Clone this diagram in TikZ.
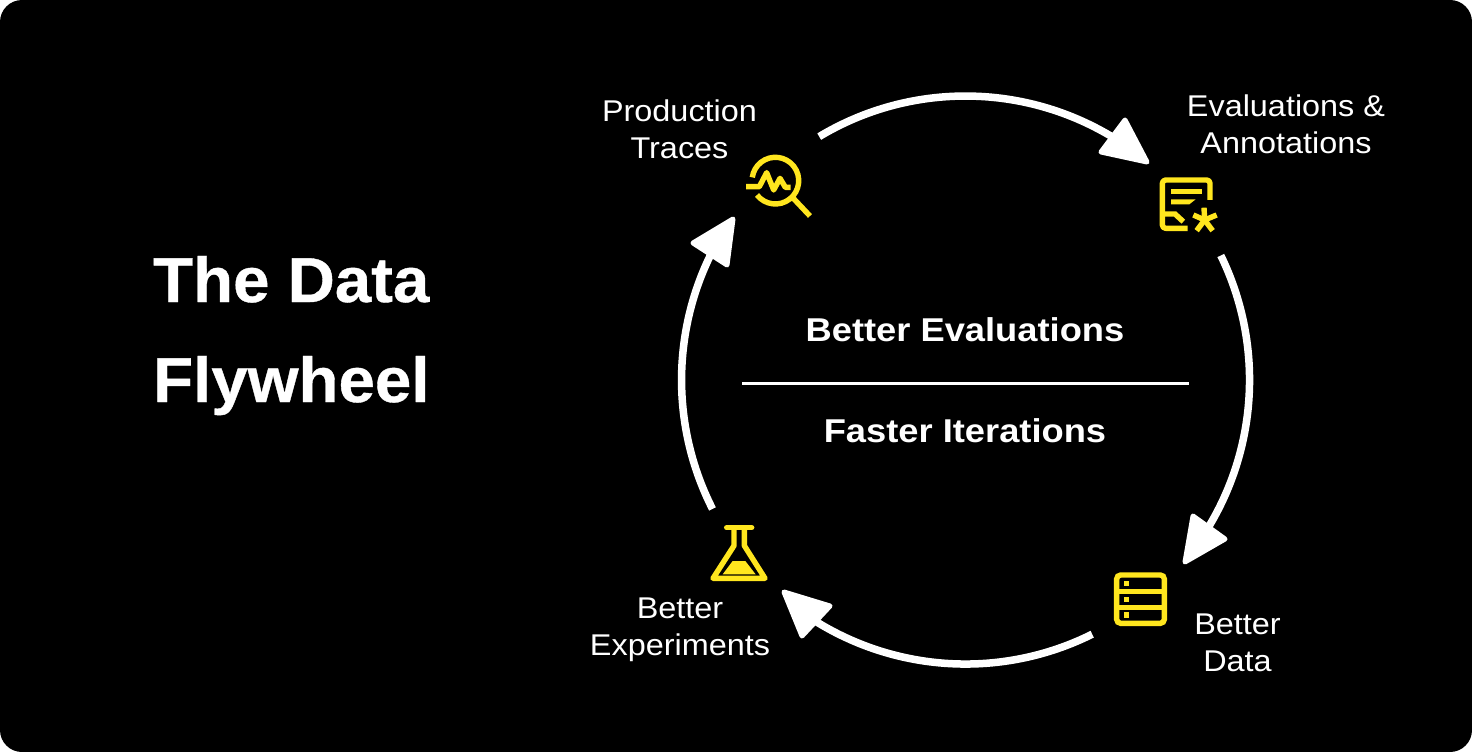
\documentclass[tikz,border=0pt]{standalone}
\usepackage{fontspec}
\setmainfont{Liberation Sans}
\newfontfamily\labfont[FakeStretch=1.08]{Liberation Sans}
\newfontfamily\midfont[FakeStretch=1.10,BoldFont={Liberation Sans Bold}]{Liberation Sans}
\newfontfamily\ttlfont[FakeStretch=1.03,BoldFont={Liberation Sans Bold},BoldFeatures={FakeBold=0.6}]{Liberation Sans}
\definecolor{iconyellow}{HTML}{FFE61E}
\tikzset{
  px/.style={x=1pt,y=-1pt},
  flow/.style={draw=white,line width=7.5pt},
  headtip/.style={fill=white,draw=white,line width=5pt,line join=round},
  icon/.style={draw=iconyellow,line width=5.4pt},
  iconfill/.style={fill=iconyellow},
  lab/.style={text=white,align=center,font=\labfont\fontsize{30}{37}\selectfont,inner sep=0pt},
  mid/.style={text=white,font=\midfont\fontsize{33}{40}\selectfont\bfseries,inner sep=0pt},
  ttl/.style={text=white,font=\ttlfont\fontsize{63.5}{100}\selectfont\bfseries,inner sep=0pt,align=left}
}
\begin{document}
\begin{tikzpicture}[px]
\useasboundingbox (0,0) rectangle (1472,752);
\fill[white] (0,0) rectangle (1472,752);
\fill[black,rounded corners=22pt] (0,0) rectangle (1472,752);
% title
\node[ttl,anchor=base west] (title1) at (153,302) {The Data};
\node[ttl,anchor=base west] (title2) at (153,402) {Flywheel};
% centre
\node[mid] (better) at (965,330) {Better Evaluations};
\node[mid] (faster) at (965,431) {Faster Iterations};
\coordinate (ruleL) at (742,383);
\coordinate (ruleR) at (1189,383);
\draw[white,line width=3pt] (ruleL) -- (ruleR);
% labels
\node[lab] (ltraces) at (679.5,129.5) {Production\\Traces};
\node[lab] (leval) at (1286,124.5) {Evaluations \&\\Annotations};
\node[lab] (ldata) at (1237.5,642.5) {Better\\Data};
\node[lab] (lexp) at (680,629.5) {Better\\Experiments};
% arcs
\coordinate (c1) at (819.2,136.6);
\coordinate (c2) at (1220.8,255.5);
\coordinate (c3) at (1092.2,634.2);
\coordinate (c4) at (712.5,508.9);
\draw[flow] (c1) arc[start angle=-121,end angle=-58,radius=284];
\draw[flow] (c2) arc[start angle=-26,end angle=31,radius=284];
\draw[flow] (c3) arc[start angle=63.5,end angle=122,radius=284];
\draw[flow] (c4) arc[start angle=153,end angle=207,radius=284];
% heads
\path[headtip] (1125,120) -- (1101,152) -- (1147,162) -- cycle;
\path[headtip] (1193,516) -- (1225,539) -- (1185,562) -- cycle;
\path[headtip] (784,592) -- (830,606) -- (802,636) -- cycle;
\path[headtip] (733,219) -- (693,243) -- (727,265) -- cycle;
% icon magnifier
\begin{scope}[shift={(730,140)},x=0.3333pt,y=-0.3333pt]
\draw[icon] (81,165) arc[start angle=142,end angle=-172,radius=70];
\draw[icon,line join=round] (48,140) -- (88,140) -- (110,98) -- (131,150) -- (150,115) -- (166,142) -- (182,142);
\draw[icon] (190,175) -- (240,228);
\end{scope}
% icon doc
\begin{scope}[shift={(1140,165)},x=0.3333pt,y=-0.3333pt]
\draw[icon,line join=round] (210,105) -- (210,55) arc[start angle=0,end angle=-90,radius=10] -- (77,45) arc[start angle=-90,end angle=-180,radius=10] -- (67,180) arc[start angle=180,end angle=90,radius=10] -- (143,190);
\draw[icon] (93,80) -- (185,80);
\fill[iconfill] (93,103) -- (167,103) -- (148,118) -- (93,118) -- cycle;
\draw[icon] (70,147) -- (105,147) -- (130,170);
\node[inner sep=0pt,minimum size=0pt] (star) at (194,165) {};
\draw[icon] (star.center) -- (192,128);
\draw[icon] (star.center) -- (160,150);
\draw[icon] (star.center) -- (230,150);
\draw[icon] (star.center) -- (170,197);
\draw[icon] (star.center) -- (218,197);
\end{scope}
% icon db
\begin{scope}[shift={(1100,560)},x=0.3333pt,y=-0.3333pt]
\draw[icon,rounded corners=4pt] (50,45) rectangle (193,190);
\draw[icon] (50,94) -- (193,94);
\draw[icon] (50,142) -- (193,142);
\fill[iconfill] (71,63) rectangle (87,79);
\fill[iconfill] (71,110) rectangle (87,126);
\fill[iconfill] (71,157) rectangle (87,173);
\end{scope}
% icon flask
\begin{scope}[shift={(700,515)},x=0.3333pt,y=-0.3333pt]
\draw[icon,line cap=round] (80,38) -- (155,38);
\draw[icon,line join=round] (102,38) -- (102,92) -- (39,190) -- (195,190) -- (133,92) -- (133,38);
\fill[iconfill] (98,138) -- (136,138) -- (167,178) -- (68,178) -- cycle;
\end{scope}
\end{tikzpicture}
\end{document}
